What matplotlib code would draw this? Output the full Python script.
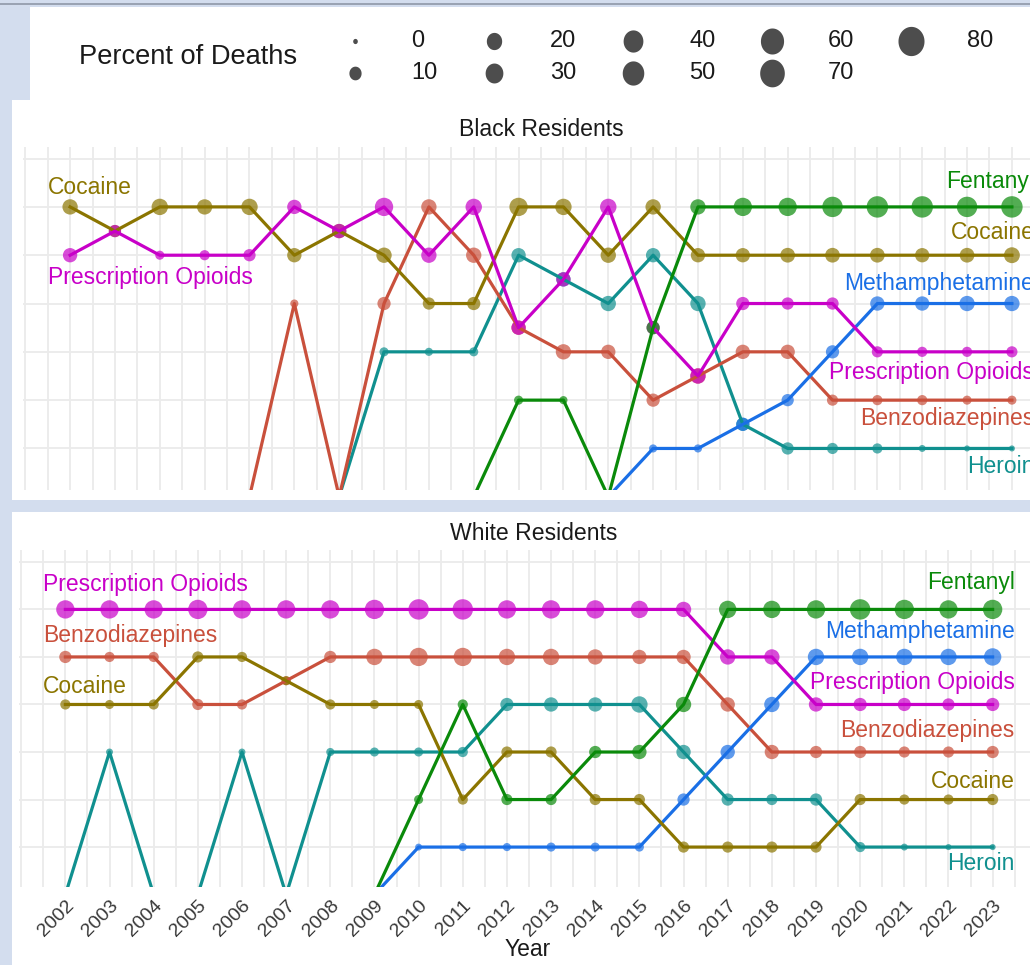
import numpy as np
import matplotlib
matplotlib.use('Agg')
import matplotlib.pyplot as plt
from matplotlib.patches import Rectangle

W, H = 1030, 965
plt.rcParams['font.family'] = ['Liberation Sans', 'DejaVu Sans']
nan = float('nan')

years = np.arange(2002, 2024)
OFF = 7  # rank given to drugs outside the top six (falls below the panel edge)

# ---------------- Black residents: rank and percent of deaths ----------------
b_fent_rank = [7, 7, 7, 7, 7, 7, 7, 7, 7, 7, 5, 5, 7, 3.5, 1, 1, 1, 1, 1, 1, 1, 1]
b_fent_pct = [nan] * 10 + [6, 4, nan, 20, 30, 48, 48, 63, 71, 71, 63, 71]
b_coc_rank = [1, 1.5, 1, 1, 1, 2, 1.5, 2, 3, 3, 1, 1, 2, 1, 2, 2, 2, 2, 2, 2, 2, 2]
b_coc_pct = [30, 16, 36, 30, 36, 25, 25, 30, 16, 20, 48, 36, 30, 30, 25, 25, 27, 27, 27, 25, 27, 33]
b_meth_rank = [7] * 13 + [6, 6, 5.5, 5, 4, 3, 3, 3, 3]
b_meth_pct = [nan] * 13 + [4, 4, 20, 16, 20, 25, 25, 30, 30]
b_opi_rank = [2, 1.5, 2, 2, 2, 1, 1.5, 1, 2, 1, 3.5, 2.5, 1, 3.5, 4.5, 3, 3, 3, 4, 4, 4, 4]
b_opi_pct = [25, 16, 6, 9, 16, 25, 25, 48, 30, 36, 25, 25, 36, 20, 30, 20, 16, 16, 12, 9, 9, 12]
b_benz_rank = [7, 7, 7, 7, 7, 3, 7, 3, 1, 2, 3.5, 4, 4, 5, 4.5, 4, 4, 5, 5, 5, 5, 5]
b_benz_pct = [nan] * 5 + [4, nan, 20, 30, 30, 25, 30, 25, 20, 30, 25, 25, 12, 9, 9, 6, 6]
b_her_rank = [7] * 7 + [4, 4, 4, 2, 2.5, 3, 2, 3, 5.5, 6, 6, 6, 6, 6, 6]
b_her_pct = [nan] * 7 + [6, 4, 6, 25, 25, 30, 25, 30, 20, 16, 12, 9, 2, 1, 1]

# ---------------- White residents ----------------
w_fent_rank = [7] * 8 + [5, 3, 5, 5, 4, 4, 3, 1, 1, 1, 1, 1, 1, 1]
w_fent_pct = [nan] * 8 + [6, 9, 12, 12, 16, 25, 30, 42, 42, 48, 63, 55, 48, 55]
w_coc_rank = [3, 3, 3, 2, 2, 2.5, 3, 3, 3, 5, 4, 4, 5, 5, 6, 6, 6, 6, 5, 5, 5, 5]
w_coc_pct = [9, 6, 9, 12, 9, 6, 9, 6, 6, 9, 12, 12, 12, 12, 12, 12, 12, 12, 12, 9, 9, 12]
w_meth_rank = [7] * 8 + [6, 6, 6, 6, 6, 6, 5, 4, 3, 2, 2, 2, 2, 2]
w_meth_pct = [nan] * 8 + [2, 4, 4, 6, 6, 6, 16, 25, 30, 36, 36, 36, 36, 42]
w_opi_rank = [1] * 15 + [2, 2, 3, 3, 3, 3, 3]
w_opi_pct = [48, 48, 48, 55, 48, 48, 48, 55, 63, 63, 48, 48, 48, 42, 30, 30, 30, 25, 20, 20, 16, 20]
w_benz_rank = [2, 2, 2, 3, 3, 2.5, 2, 2, 2, 2, 2, 2, 2, 2, 2, 3, 4, 4, 4, 4, 4, 4]
w_benz_pct = [16, 9, 9, 12, 9, 6, 16, 36, 48, 48, 36, 36, 30, 25, 25, 25, 25, 16, 16, 12, 12, 16]
w_her_rank = [7, 4, 7, 7, 4, 7, 4, 4, 4, 4, 3, 3, 3, 3, 4, 5, 5, 5, 6, 6, 6, 6]
w_her_pct = [nan, 2, nan, nan, 2, nan, 4, 6, 6, 9, 20, 25, 25, 36, 25, 16, 12, 16, 9, 2, 1, 1]

drugs = ['Heroin', 'Benzodiazepines', 'Methamphetamine', 'Cocaine', 'Prescription Opioids', 'Fentanyl']
colors = {
    'Fentanyl': '#0A8A0A',
    'Cocaine': '#8B7500',
    'Methamphetamine': '#1A6FE6',
    'Prescription Opioids': '#C800C8',
    'Benzodiazepines': '#C9503C',
    'Heroin': '#10908F',
}

black = {
    'Fentanyl': (b_fent_rank, b_fent_pct), 'Cocaine': (b_coc_rank, b_coc_pct),
    'Methamphetamine': (b_meth_rank, b_meth_pct), 'Prescription Opioids': (b_opi_rank, b_opi_pct),
    'Benzodiazepines': (b_benz_rank, b_benz_pct), 'Heroin': (b_her_rank, b_her_pct),
}
white = {
    'Fentanyl': (w_fent_rank, w_fent_pct), 'Cocaine': (w_coc_rank, w_coc_pct),
    'Methamphetamine': (w_meth_rank, w_meth_pct), 'Prescription Opioids': (w_opi_rank, w_opi_pct),
    'Benzodiazepines': (w_benz_rank, w_benz_pct), 'Heroin': (w_her_rank, w_her_pct),
}

# labels at the left (first year) and right (last year): (drug, shift in rank units)
black_left = [('Cocaine', -0.4), ('Prescription Opioids', 0.47)]
black_right = [('Fentanyl', -0.53), ('Cocaine', -0.48), ('Methamphetamine', -0.42),
               ('Prescription Opioids', 0.42), ('Benzodiazepines', 0.37), ('Heroin', 0.37)]
white_left = [('Prescription Opioids', -0.52), ('Benzodiazepines', -0.46), ('Cocaine', -0.37)]
white_right = [('Fentanyl', -0.56), ('Methamphetamine', -0.53), ('Prescription Opioids', -0.47),
               ('Benzodiazepines', -0.46), ('Cocaine', -0.37), ('Heroin', 0.34)]

legend_vals = [0, 10, 20, 30, 40, 50, 60, 70, 80]


def dot_px(pct):
    return 4 + 18.5 * np.sqrt(np.asarray(pct, dtype=float) / 80.0)


def fig_box(x0, y0, x1, y1):
    return [x0 / W, 1 - y1 / H, (x1 - x0) / W, (y1 - y0) / H]


fig = plt.figure(figsize=(W / 100, H / 100), dpi=100)
fig.patch.set_facecolor('#D3DDEE')
for box in [(30, 7, W, 100), (12, 100, W, 500), (12, 512, W, H)]:
    x, y, w, h = fig_box(*box)
    fig.patches.append(Rectangle((x, y), w, h, transform=fig.transFigure,
                                 facecolor='white', edgecolor='none', zorder=-10))
fig.patches.append(Rectangle((0, 1 - 5 / H), 1, 2 / H, transform=fig.transFigure,
                             facecolor='#9AA3B3', edgecolor='none', zorder=-10))


def draw_panel(ax, data, left, right, ylim):
    ax.set_facecolor('none')
    ax.set_xlim(2000.95, 2024.05)
    ax.set_ylim(*ylim)
    ax.set_yticks(range(0, 7))
    ax.set_xticks(years)
    ax.set_xticks(np.arange(2001, 2024.5, 0.5), minor=True)
    ax.grid(True, which='both', axis='x', color='#EBEBEB', lw=1.3)
    ax.grid(True, which='major', axis='y', color='#EBEBEB', lw=1.3)
    ax.set_axisbelow(True)
    for s in ax.spines.values():
        s.set_visible(False)
    ax.tick_params(which='both', length=0)
    ax.set_yticklabels([])
    for drug in drugs:
        rank, pct = data[drug]
        rank = np.asarray(rank, dtype=float)
        pct = np.asarray(pct, dtype=float)
        c = colors[drug]
        ax.plot(years, rank, color=c, lw=2.3, zorder=3, solid_joinstyle='round')
        m = ~np.isnan(pct)
        ax.scatter(years[m], rank[m], s=(dot_px(pct[m]) * 0.72) ** 2, color=c,
                   alpha=0.7, linewidths=0, zorder=2)
    for drug, dy in left:
        ax.text(years[0] - 0.5, data[drug][0][0] + dy, drug, color=colors[drug],
                fontsize=16.5, ha='left', va='center', clip_on=False, zorder=5)
    for drug, dy in right:
        ax.text(years[-1] + 0.5, data[drug][0][-1] + dy, drug, color=colors[drug],
                fontsize=16.5, ha='right', va='center', clip_on=False, zorder=5)


ax_b = fig.add_axes(fig_box(23, 147, 1059, 490))
draw_panel(ax_b, black, black_left, black_right, (6.86, -0.24))
ax_b.set_xticklabels([])
fig.text(541 / W, 1 - 130 / H, 'Black Residents', fontsize=16.6, ha='center', va='center', color='#1A1A1A')

ax_w = fig.add_axes(fig_box(19, 550, 1039, 887))
draw_panel(ax_w, white, white_left, white_right, (6.84, -0.25))
ax_w.set_xticklabels([str(y) for y in years], rotation=45, ha='right', va='top',
                     rotation_mode='anchor', fontsize=14, color='#383838')
ax_w.tick_params(axis='x', pad=7)
fig.text(534 / W, 1 - 534 / H, 'White Residents', fontsize=16.6, ha='center', va='center', color='#1A1A1A')
fig.text(528 / W, 1 - 950 / H, 'Year', fontsize=16.5, ha='center', va='center', color='#1A1A1A')

# ---------------- size legend ----------------
ax_l = fig.add_axes([0, 1 - 100 / H, 1, 93 / H])
ax_l.set_xlim(0, W)
ax_l.set_ylim(100, 7)
ax_l.axis('off')
ax_l.text(79, 57, 'Percent of Deaths', fontsize=19.6, ha='left', va='center', color='#1A1A1A')
t = np.linspace(0, 2 * np.pi, 60)
ell = np.column_stack([0.89 * np.cos(t), np.sin(t)])
for i, v in enumerate(legend_vals):
    col, row = i // 2, i % 2
    x = 355 + 139 * col
    y = 41 + 32 * row
    hgt = 1.3 * dot_px(v)
    ax_l.scatter([x], [y], s=(hgt * 0.72) ** 2, marker=ell, color='#4D4D4D', linewidths=0)
    ax_l.text(x + 56, y, str(v), fontsize=17, ha='left', va='center', color='#1A1A1A',
              family=['Liberation Sans Narrow', 'Liberation Sans', 'DejaVu Sans'])

fig.savefig('out.png', dpi=100)
